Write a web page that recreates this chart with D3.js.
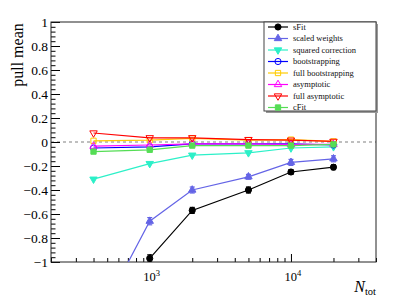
<!DOCTYPE html>
<html>
<head>
<meta charset="utf-8">
<title>pull mean</title>
<style>
  body { margin: 0; background: #fff; }
  text { font-family: "Liberation Serif", "DejaVu Serif", serif; }
</style>
</head>
<body>
<svg width="407" height="299"></svg>
<script src="https://d3js.org/d3.v7.min.js"></script>
<script>

var nTot = [400, 1000, 2000, 5000, 10000, 20000];

var sFit = [null, -0.97, -0.57, -0.40, -0.25, -0.21];
var sFitErr = [null, 0.03, 0.025, 0.025, 0.02, 0.02];
var scaledWeights = [-1.55, -0.66, -0.40, -0.29, -0.17, -0.14];
var scaledWeightsErr = [0.03, 0.03, 0.025, 0.02, 0.025, 0.025];
var squaredCorrection = [-0.31, -0.18, -0.11, -0.09, -0.05, -0.04];
var bootstrapping = [-0.05, -0.04, -0.015, -0.015, -0.015, -0.025];
var fullBootstrapping = [0.01, 0.015, 0.03, 0.015, 0.02, 0.005];
var asymptotic = [-0.035, -0.025, -0.015, -0.015, -0.02, -0.02];
var fullAsymptotic = [0.075, 0.035, 0.035, 0.02, 0.015, 0.005];
var cFit = [-0.08, -0.065, -0.03, -0.03, -0.03, -0.02];

var yTicks = [-1, -0.8, -0.6, -0.4, -0.2, 0, 0.2, 0.4, 0.6, 0.8, 1];
var yTickLabels = ["\u22121", "\u22120.8", "\u22120.6", "\u22120.4", "\u22120.2", "0", "0.2", "0.4", "0.6", "0.8", "1"];
var xMajor = [1000, 10000];
var xMajorExp = ["3", "4"];

var series = [
  {name: "sFit", values: sFit, err: sFitErr, color: "#000000", shape: "circle", fill: true},
  {name: "scaled weights", values: scaledWeights, err: scaledWeightsErr, color: "#6464e6", shape: "up", fill: true},
  {name: "squared correction", values: squaredCorrection, err: null, color: "#2cf0c8", shape: "down", fill: true},
  {name: "bootstrapping", values: bootstrapping, err: null, color: "#0000ff", shape: "circle", fill: false},
  {name: "full bootstrapping", values: fullBootstrapping, err: null, color: "#ffcc00", shape: "square", fill: false},
  {name: "asymptotic", values: asymptotic, err: null, color: "#ff00ff", shape: "up", fill: false},
  {name: "full asymptotic", values: fullAsymptotic, err: null, color: "#ff0000", shape: "down", fill: false},
  {name: "cFit", values: cFit, err: null, color: "#55dd55", shape: "square", fill: true}
];

var svg = d3.select("svg"),
    margin = {top: 22, right: 31, bottom: 37, left: 51},
    width = 407 - margin.left - margin.right,
    height = 299 - margin.top - margin.bottom,
    g = svg.append("g").attr("transform", "translate(" + margin.left + "," + margin.top + ")");

var x = d3.scaleLog().domain([200, 40000]).range([0, width]);
var y = d3.scaleLinear().domain([-1, 1]).range([height, 0]);

svg.append("defs").append("clipPath").attr("id", "clip")
  .append("rect").attr("width", width).attr("height", height);

// zero line
g.append("line")
    .attr("x1", 0).attr("x2", width)
    .attr("y1", y(0)).attr("y2", y(0))
    .attr("stroke", "#aaaaaa")
    .attr("stroke-width", 1.5)
    .attr("stroke-dasharray", "3,3");

// y axis: minor then major ticks, inward
var yMinor = d3.range(-1, 1.0001, 0.04);
g.append("g")
    .call(d3.axisRight(y).tickValues(yMinor).tickSize(4.5).tickFormat(""))
    .call(function(s) { s.select(".domain").remove(); });
g.append("g")
    .call(d3.axisRight(y).tickValues(yTicks).tickSize(9).tickFormat(""))
    .call(function(s) { s.select(".domain").remove(); });
g.selectAll(".ylab")
  .data(yTicks)
  .enter().append("text")
    .attr("class", "ylab")
    .attr("x", -3)
    .attr("y", function(d) { return y(d); })
    .attr("dy", "0.35em")
    .attr("text-anchor", "end")
    .attr("font-size", 13.5)
    .text(function(d, i) { return yTickLabels[i]; });

// x axis: minor then major, inward
var xMinor = [];
[100, 1000, 10000].forEach(function(b) {
  for (var k = 2; k <= 9; k++) {
    var v = b * k;
    if (v >= 200 && v <= 40000) xMinor.push(v);
  }
});
g.append("g")
    .attr("transform", "translate(0," + height + ")")
    .call(d3.axisBottom(x).tickValues(xMinor).tickSize(-4).tickFormat(""))
    .call(function(s) { s.select(".domain").remove(); });
g.append("g")
    .attr("transform", "translate(0," + height + ")")
    .call(d3.axisBottom(x).tickValues(xMajor).tickSize(-8).tickFormat(""))
    .call(function(s) { s.select(".domain").remove(); });
var xl = g.selectAll(".xlab")
  .data(xMajor)
  .enter().append("text")
    .attr("class", "xlab")
    .attr("x", function(d) { return x(d) + 2; })
    .attr("y", height + 19)
    .attr("text-anchor", "middle")
    .attr("font-size", 12.5);
xl.append("tspan").text("10");
xl.append("tspan")
    .attr("font-size", 8.5)
    .attr("dy", -5)
    .text(function(d, i) { return xMajorExp[i]; });

// frame
g.append("rect")
    .attr("width", width).attr("height", height)
    .attr("fill", "none").attr("stroke", "#222").attr("stroke-width", 1);

// axis titles
svg.append("text")
    .attr("transform", "translate(23," + 55 + ") rotate(-90)")
    .attr("text-anchor", "middle")
    .attr("font-size", 16)
    .text("pull mean");
var xt = svg.append("text")
    .attr("x", margin.left + width)
    .attr("y", 292)
    .attr("text-anchor", "end")
    .attr("font-size", 16);
xt.append("tspan").attr("font-style", "italic").text("N");
xt.append("tspan").attr("font-size", 10.5).attr("dy", 3).text("tot");

function marker(sel, s) {
  var type = s.shape === "circle" ? d3.symbolCircle : s.shape === "square" ? d3.symbolSquare : d3.symbolTriangle;
  var size = s.shape === "circle" ? 30 : s.shape === "square" ? 28 : 24;
  sel.append("path")
      .attr("d", d3.symbol().type(type).size(size)())
      .attr("transform", function() {
        return s.shape === "down" ? "rotate(180)" : null;
      })
      .attr("fill", s.fill ? s.color : "#fff")
      .attr("fill-opacity", s.fill ? 1 : 0)
      .attr("stroke", s.color)
      .attr("stroke-width", 1);
}

var plot = g.append("g").attr("clip-path", "url(#clip)");

var line = d3.line()
    .defined(function(d) { return d.v !== null; })
    .x(function(d) { return x(d.n); })
    .y(function(d) { return y(d.v); });

series.forEach(function(s) {
  var pts = nTot.map(function(n, i) {
    return {n: n, v: s.values[i], e: s.err ? s.err[i] : null};
  });
  var sg = plot.append("g");
  sg.append("path")
      .datum(pts)
      .attr("fill", "none")
      .attr("stroke", s.color)
      .attr("stroke-width", 1.2)
      .attr("d", line);
  var valid = pts.filter(function(d) { return d.v !== null; });
  if (s.err) {
    var eb = sg.selectAll(".err")
      .data(valid.filter(function(d) { return d.e; }))
      .enter().append("g")
        .attr("stroke", s.color)
        .attr("stroke-width", 1.2);
    eb.append("line")
        .attr("x1", function(d) { return x(d.n); })
        .attr("x2", function(d) { return x(d.n); })
        .attr("y1", function(d) { return y(d.v - d.e); })
        .attr("y2", function(d) { return y(d.v + d.e); });
    eb.append("line")
        .attr("x1", function(d) { return x(d.n) - 2.5; })
        .attr("x2", function(d) { return x(d.n) + 2.5; })
        .attr("y1", function(d) { return y(d.v + d.e); })
        .attr("y2", function(d) { return y(d.v + d.e); });
    eb.append("line")
        .attr("x1", function(d) { return x(d.n) - 2.5; })
        .attr("x2", function(d) { return x(d.n) + 2.5; })
        .attr("y1", function(d) { return y(d.v - d.e); })
        .attr("y2", function(d) { return y(d.v - d.e); });
  }
  sg.selectAll(".pt")
    .data(valid)
    .enter().append("g")
      .attr("transform", function(d) { return "translate(" + x(d.n) + "," + y(d.v) + ")"; })
      .each(function() { marker(d3.select(this), s); });
});

// legend
var lg = svg.append("g").attr("transform", "translate(264,22)");
lg.append("rect")
    .attr("x", 2).attr("y", 2)
    .attr("width", 112).attr("height", 89)
    .attr("fill", "#999");
lg.append("rect")
    .attr("width", 112).attr("height", 89)
    .attr("fill", "#fff")
    .attr("stroke", "#444").attr("stroke-width", 1);
series.forEach(function(s, i) {
  var row = lg.append("g").attr("transform", "translate(0," + (5 + i * 11.5) + ")");
  row.append("line")
      .attr("x1", 4).attr("x2", 24)
      .attr("stroke", s.color).attr("stroke-width", 1.2);
  row.append("g").attr("transform", "translate(14,0)")
      .each(function() { marker(d3.select(this), s); });
  row.append("text")
      .attr("x", 29)
      .attr("dy", "0.33em")
      .attr("font-size", 8.5)
      .attr("fill", "#111")
      .text(s.name);
});

</script>
</body>
</html>
